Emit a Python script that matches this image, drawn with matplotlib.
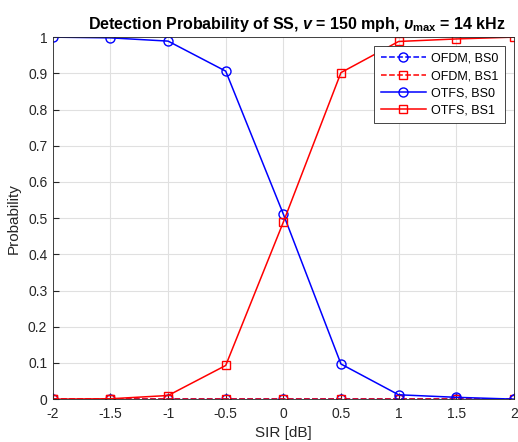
import numpy as np
import matplotlib
matplotlib.use("Agg")
import matplotlib.pyplot as plt

plt.rcParams['font.family'] = ['Liberation Sans', 'DejaVu Sans']
plt.rcParams['mathtext.fontset'] = 'custom'
plt.rcParams['mathtext.it'] = 'Liberation Sans:italic:bold'
plt.rcParams['mathtext.bf'] = 'Liberation Sans:bold'

sir = [-2, -1.5, -1, -0.5, 0, 0.5, 1, 1.5, 2]
ofdm_bs0 = [0, 0, 0, 0, 0, 0, 0, 0, 0]
ofdm_bs1 = [0, 0, 0, 0, 0, 0, 0, 0, 0]
otfs_bs0 = [1.0, 0.998, 0.989, 0.906, 0.511, 0.097, 0.012, 0.005, 0.0]
otfs_bs1 = [0.0, 0.001, 0.010, 0.093, 0.489, 0.902, 0.988, 0.995, 1.0]

fig = plt.figure(figsize=(5.18, 4.42), dpi=100)
ax = fig.add_axes([0.102, 0.097, 0.890, 0.819])

ax.plot(sir, ofdm_bs0, '--o', color='blue', mfc='none', ms=6.5, lw=1.1, label='OFDM, BS0')
ax.plot(sir, ofdm_bs1, '--s', color='red', mfc='none', ms=5.5, lw=1.1, label='OFDM, BS1')
ax.plot(sir, otfs_bs0, '-o', color='blue', mfc='none', ms=6.5, lw=1.1, label='OTFS, BS0')
ax.plot(sir, otfs_bs1, '-s', color='red', mfc='none', ms=5.5, lw=1.1, label='OTFS, BS1')

ax.set_xlim(-2, 2)
ax.set_ylim(0, 1)
ax.set_xticks(np.arange(-2, 2.01, 0.5))
ax.set_xticklabels(['-2', '-1.5', '-1', '-0.5', '0', '0.5', '1', '1.5', '2'])
ax.set_yticks(np.arange(0, 1.01, 0.1))
ax.set_yticklabels(['0', '0.1', '0.2', '0.3', '0.4', '0.5', '0.6', '0.7', '0.8', '0.9', '1'])
ax.tick_params(direction='in', labelsize=10, colors='#262626', length=4, pad=4)
ax.tick_params(axis='x', pad=6)
ax.grid(True, color='#e0e0e0', lw=0.8)
ax.set_axisbelow(True)
for s in ax.spines.values():
    s.set_color('#262626')
    s.set_linewidth(0.6)

ax.set_xlabel('SIR [dB]', fontsize=11, color='#262626', labelpad=3)
ax.set_ylabel('Probability', fontsize=11, color='#262626', labelpad=5)
ax.set_title(r'Detection Probability of SS, $\mathit{v}$ = 150 mph, $\upsilon_{\mathbf{max}}$ = 14 kHz',
             fontsize=11.5, fontweight='bold', pad=6, x=0.529)

leg = ax.legend(loc='upper right', fontsize=9, fancybox=False, framealpha=1,
                edgecolor='#262626', borderaxespad=0.7, handlelength=3.6,
                labelspacing=0.42, handletextpad=0.4, borderpad=0.55)
leg.get_frame().set_linewidth(0.6)

fig.savefig('out.png', dpi=100)
